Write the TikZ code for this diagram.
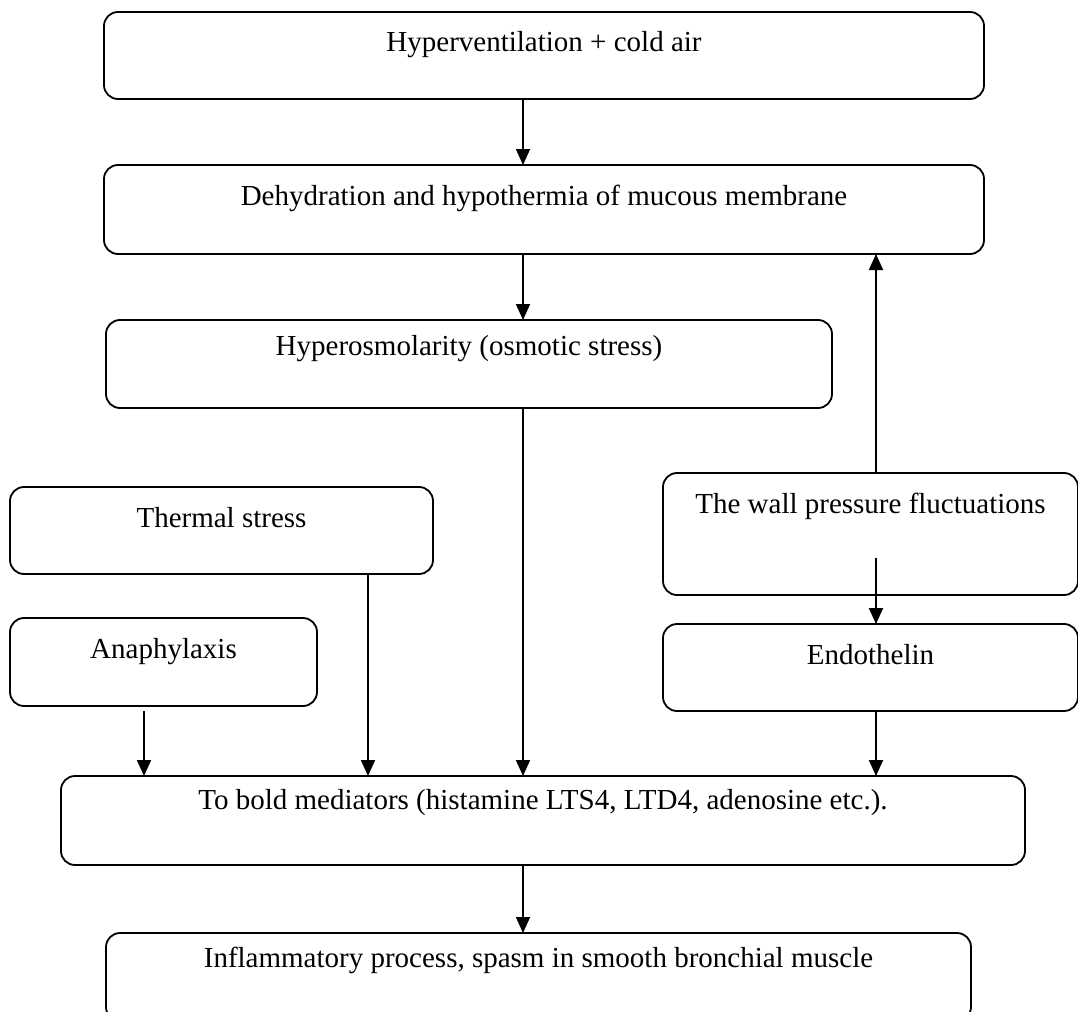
\documentclass[tikz,border=0pt]{standalone}
\usepackage{fontspec}
\setmainfont{Liberation Serif}
\usetikzlibrary{arrows.meta}

\tikzset{
  box/.style={draw, rounded corners=7pt, line width=0.9pt, inner sep=0pt, outer sep=0pt,
    anchor=north, align=center, text height=20pt, font=\fontsize{14.5}{17}\selectfont},
  flow/.style={line width=0.9pt, -{Triangle[width=7pt,length=8pt]}}
}

\begin{document}
\begin{tikzpicture}[x=0.5pt, y=-0.5pt]
  \useasboundingbox (0,0) rectangle (1078,1012);

  % Boxes
  \node[box, minimum width=440pt, text depth=23.5pt] (hyper) at (544,12) {Hyperventilation + cold air};
  \node[box, minimum width=440pt, text depth=24.5pt] (dehyd) at (544,165) {Dehydration and hypothermia of mucous membrane};
  \node[box, minimum width=363pt, text height=17.5pt, text depth=26.5pt] (osmo) at (469,320) {Hyperosmolarity (osmotic stress)};
  \node[box, minimum width=211.5pt, text depth=23.5pt] (thermal) at (221.5,487) {Thermal stress};
  \node[box, minimum width=153.5pt, text depth=24pt] (anaph) at (163.5,618) {Anaphylaxis};
  \node[box, minimum width=207.5pt, text depth=41pt] (wall) at (870.5,473) {The wall pressure fluctuations};
  \node[box, minimum width=207.5pt, text depth=23.5pt] (endo) at (870.5,624) {Endothelin};
  \node[box, minimum width=482pt, text height=16.5pt, text depth=28pt] (media) at (543,776) {To bold mediators (histamine LTS4, LTD4, adenosine etc.).};
  \node[box, minimum width=432.5pt, text height=17pt, text depth=27pt] (inflam) at (538.5,933) {Inflammatory process, spasm in smooth bronchial muscle};

  % Vertical lines of the arrows
  \coordinate (midline) at (523,0);
  \coordinate (thermline) at (368,0);
  \coordinate (rightline) at (876,0);
  \coordinate (anaphend) at (144,711);
  \coordinate (wallsrc) at (876,558);

  % Arrows
  \draw[flow] (midline |- hyper.south) -- (midline |- dehyd.north);
  \draw[flow] (midline |- dehyd.south) -- (midline |- osmo.north);
  \draw[flow] (midline |- osmo.south) -- (midline |- media.north);
  \draw[flow] (midline |- media.south) -- (midline |- inflam.north);
  \draw[flow] (thermline |- thermal.south) -- (thermline |- media.north);
  \draw[flow] (anaphend) -- (anaphend |- media.north);
  \draw[flow] (rightline |- wall.north) -- (rightline |- dehyd.south);
  \draw[flow] (wallsrc) -- (wallsrc |- endo.north);
  \draw[flow] (rightline |- endo.south) -- (rightline |- media.north);
\end{tikzpicture}
\end{document}
